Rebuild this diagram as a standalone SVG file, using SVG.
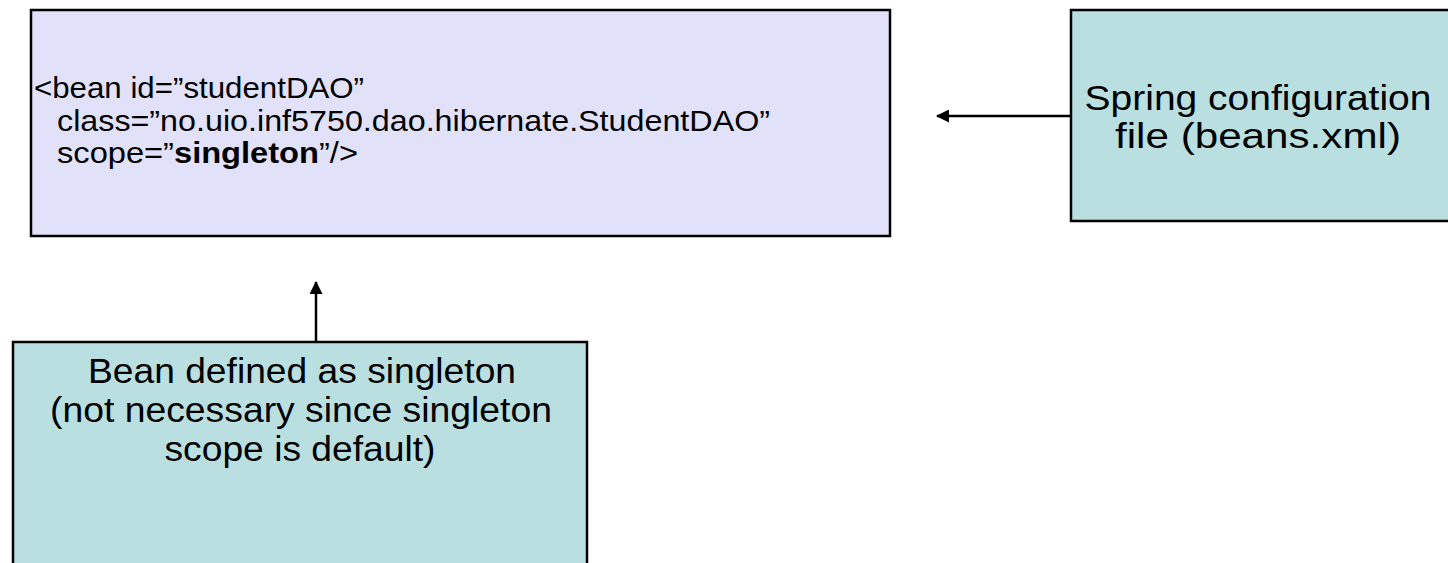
<svg xmlns="http://www.w3.org/2000/svg" width="1448" height="563" viewBox="0 0 1448 563">
<defs>
<style>
.box{stroke:#000;stroke-width:2.5}
.code{fill:#e1e1fa}
.note{fill:#b9dfe1}
text{font-family:"Liberation Sans",Arial,sans-serif;fill:#000}
.t1{font-size:30px}
.t2{font-size:35px;text-anchor:middle}
.conn{stroke:#000;stroke-width:2.5;fill:none}
</style>
<marker id="arr" viewBox="0 0 12 12" refX="11" refY="6" markerWidth="14" markerHeight="13" orient="auto" markerUnits="userSpaceOnUse">
<path d="M0,0 L12,6 L0,12 z" fill="#000"/>
</marker>
</defs>
<rect width="1448" height="563" fill="#fff"/>
<g id="bean-def">
<rect class="box code" x="31" y="10" width="859" height="226"/>
<text class="t1" x="34" y="98" textLength="330" lengthAdjust="spacingAndGlyphs">&lt;bean id=”studentDAO”</text>
<text class="t1" x="57" y="131" textLength="713" lengthAdjust="spacingAndGlyphs">class=”no.uio.inf5750.dao.hibernate.StudentDAO”</text>
<text class="t1" x="57" y="163" textLength="301" lengthAdjust="spacingAndGlyphs">scope=”<tspan font-weight="bold">singleton</tspan>”/&gt;</text>
</g>
<g id="spring-config">
<rect class="box note" x="1071" y="10" width="385" height="211"/>
<text class="t2" x="1258" y="110" textLength="347" lengthAdjust="spacingAndGlyphs">Spring configuration</text>
<text class="t2" x="1258" y="148" textLength="286" lengthAdjust="spacingAndGlyphs">file (beans.xml)</text>
</g>
<g id="singleton-note">
<rect class="box note" x="13" y="342" width="574" height="240"/>
<text class="t2" x="302" y="383" textLength="428" lengthAdjust="spacingAndGlyphs">Bean defined as singleton</text>
<text class="t2" x="301" y="422" textLength="502" lengthAdjust="spacingAndGlyphs">(not necessary since singleton</text>
<text class="t2" x="300" y="461" textLength="271" lengthAdjust="spacingAndGlyphs">scope is default)</text>
</g>
<g id="connectors">
<line class="conn" x1="1071" y1="116" x2="937" y2="116" marker-end="url(#arr)"/>
<line class="conn" x1="316" y1="342" x2="316" y2="282" marker-end="url(#arr)"/>
</g>
</svg>
